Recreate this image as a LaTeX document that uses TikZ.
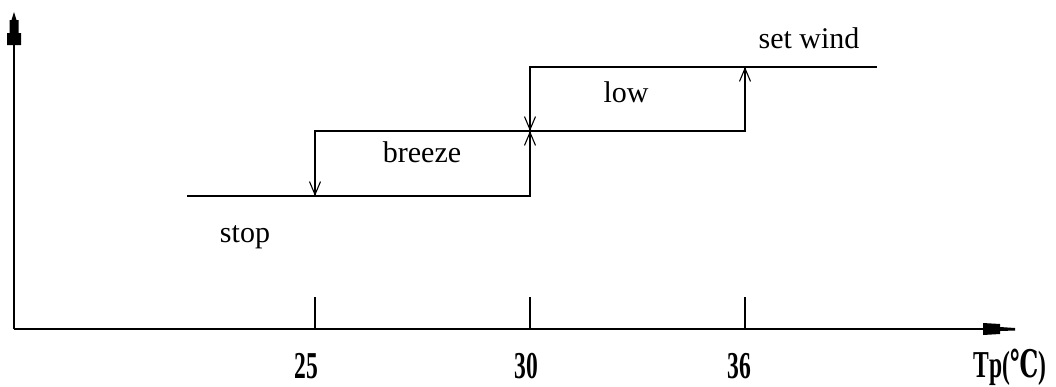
\documentclass[tikz,border=0pt]{standalone}
\usepackage{fontspec}
\setmainfont{Liberation Serif}
\newfontfamily\dejavu{DejaVu Serif}
\usetikzlibrary{arrows.meta}
\tikzset{
  line/.style={line width=1.5pt},
  levarrow/.style={line width=1.5pt,-{Straight Barb[length=13pt,width=11pt,line width=1.1pt]}},
  lbl/.style={font=\fontsize{30}{34}\selectfont, inner sep=0pt, anchor=base},
  ticklbl/.style={font=\fontsize{38}{42}\selectfont\bfseries, inner sep=0pt, xscale=0.62, anchor=base},
  tickline/.style={line width=1.5pt}
}
\begin{document}
\begin{tikzpicture}[x=1pt,y=-1pt]
\useasboundingbox (0,0) rectangle (1056,386);
% axes
\coordinate (O) at (14,329);
\draw[line] (O) -- (14,40);
\draw[line] (O) -- (990,329);
\fill (14,12) -- (16.5,20) -- (18.5,20) -- (18.5,33) -- (21,33) -- (21,45) -- (7,45) -- (7,33) -- (9.5,33) -- (9.5,20) -- (11.5,20) -- cycle;
\fill (983,323) -- (1000,324) -- (1000,327) -- (1015,328) -- (1015,330.5) -- (1000,331) -- (1000,334) -- (983,335) -- cycle;
% ticks
\coordinate (t25) at (315,329);
\coordinate (t30) at (530,329);
\coordinate (t36) at (745,329);
\draw[tickline] (t25) -- ++(0,-32);
\draw[tickline] (t30) -- ++(0,-32);
\draw[tickline] (t36) -- ++(0,-32);
\node[ticklbl] (l25) at (306,378) {25};
\node[ticklbl] (l30) at (526,378) {30};
\node[ticklbl] (l36) at (739,378) {36};
\node[ticklbl] (tp) at (1010,377) {Tp({\dejavu ℃})};
% levels
\coordinate (s0) at (187,196);
\coordinate (s1) at (530,196);
\coordinate (b0) at (315,131);
\coordinate (b1) at (745,131);
\coordinate (bm) at (530,131);
\coordinate (w0) at (530,67);
\coordinate (w1) at (877,67);
\coordinate (s25) at (315,196);
\coordinate (w36) at (745,67);
\draw[line] (s0) -- (s1) -- (w0) -- (w1);
\draw[line] (s25) -- (b0) -- (b1) -- (w36);
\draw[levarrow] (b0) -- (s25);
\draw[levarrow] (w0) -- (bm);
\draw[levarrow] (s1) -- (bm);
\draw[levarrow] (b1) -- (w36);
% labels
\node[lbl] (stop) at (245,242) {stop};
\node[lbl] (breeze) at (422,162) {breeze};
\node[lbl] (low) at (626,102) {low};
\node[lbl] (set) at (809,48) {set wind};
\end{tikzpicture}
\end{document}
